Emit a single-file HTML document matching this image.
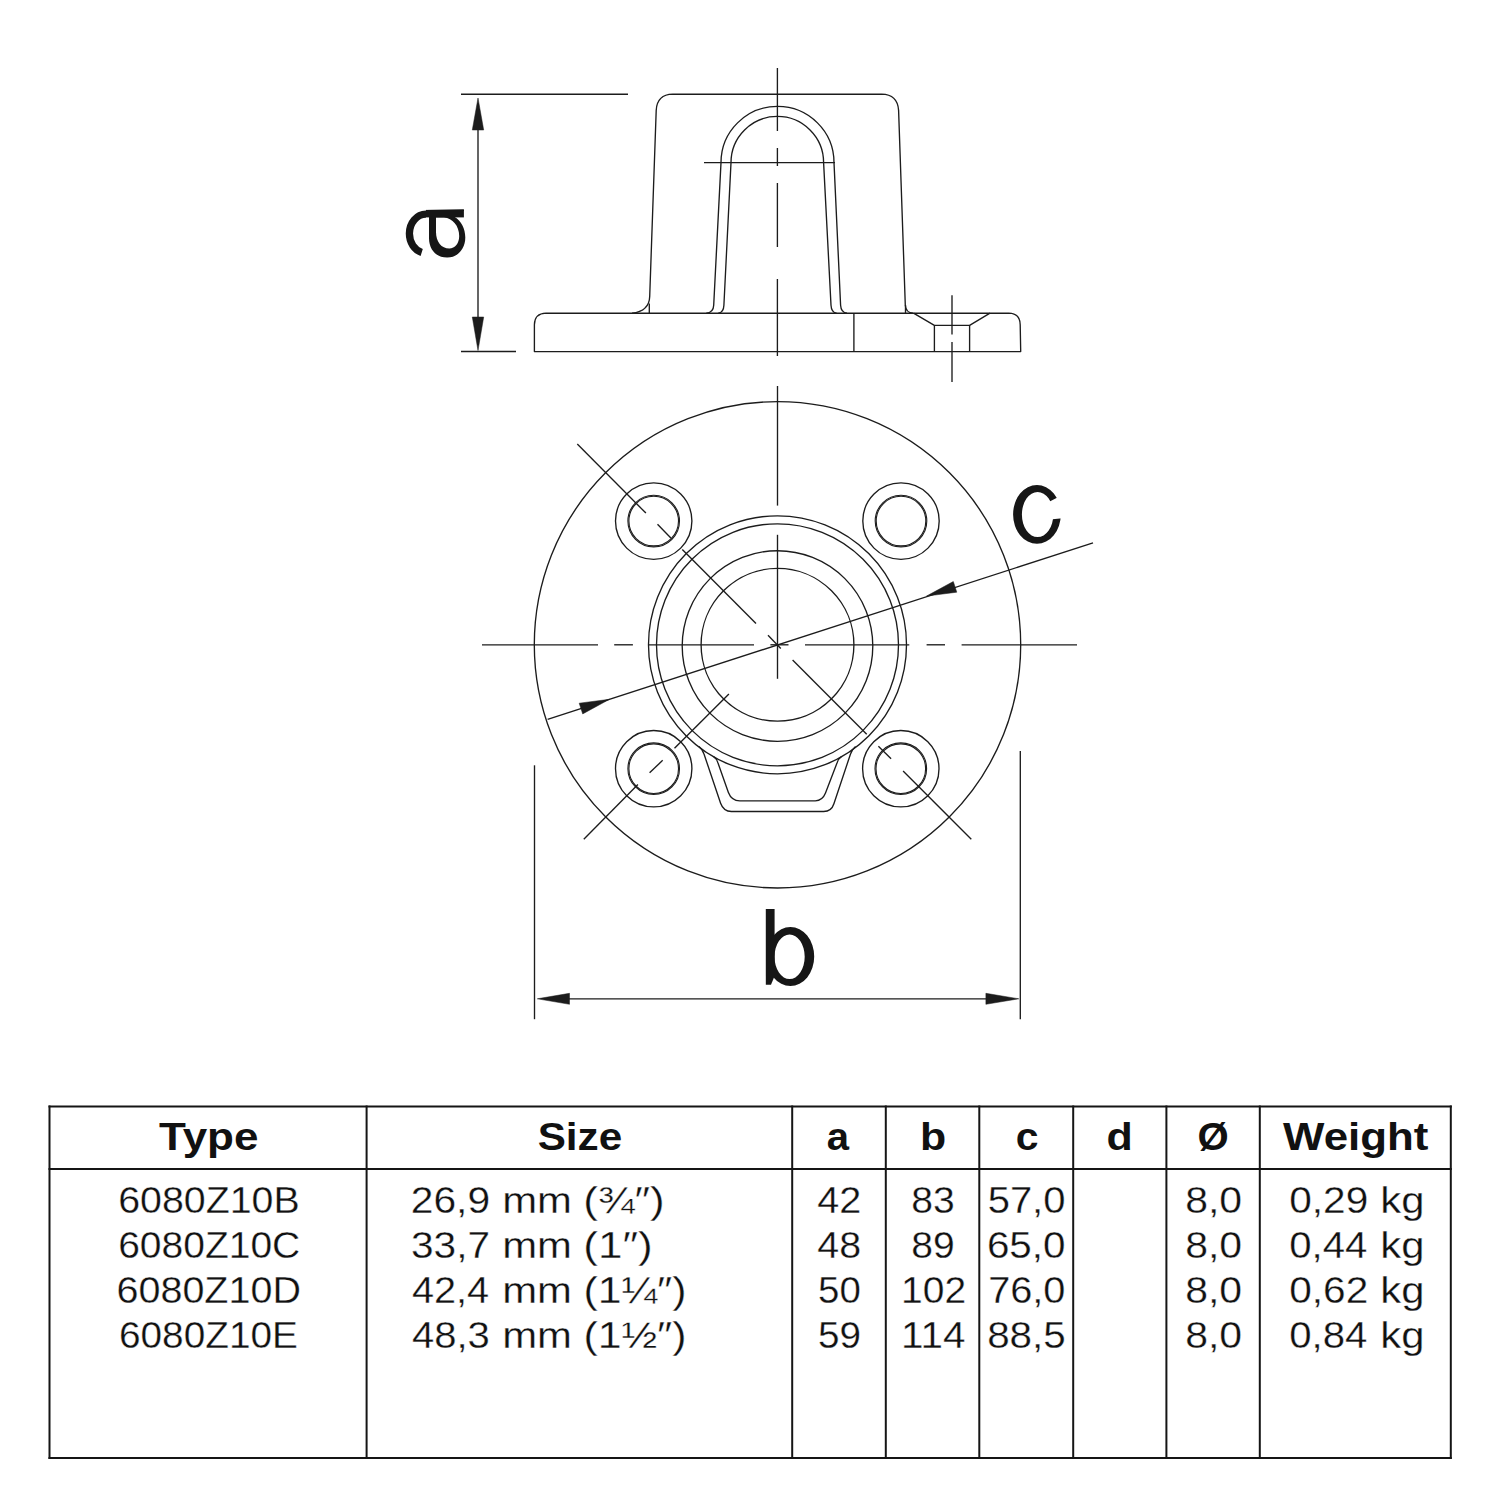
<!DOCTYPE html>
<html><head><meta charset="utf-8"><style>
html,body{margin:0;padding:0;background:#fff;width:1501px;height:1501px;overflow:hidden}
svg{display:block}
text{font-family:"Liberation Sans",sans-serif;fill:#111}
</style></head><body>
<svg width="1501" height="1501" viewBox="0 0 1501 1501">
<g stroke="#1c1c1c" fill="none" stroke-linecap="butt" stroke-linejoin="round">
<line x1="461" y1="94.2" x2="628" y2="94.2" stroke-width="1.35"/>
<line x1="461" y1="351.5" x2="516" y2="351.5" stroke-width="1.35"/>
<line x1="478" y1="110" x2="478" y2="335" stroke-width="1.35"/>
<path d="M478 98 L472.3 130 L483.7 130 Z" stroke-width="0.5" fill="#1c1c1c"/>
<path d="M478 350.5 L472.3 317 L483.7 317 Z" stroke-width="0.5" fill="#1c1c1c"/>
<path d="M632 313.2 Q649.3 311 649.7 296.4 L656.2 110.4 Q657 94.6 672.8 94.2 L881.6 94.2 Q897.6 94.6 898.6 110.4 L905.3 305.2 Q905.8 312.6 913 313.2" stroke-width="1.35" fill="none"/>
<line x1="649.3" y1="303.5" x2="649.3" y2="313.2" stroke-width="1.35"/>
<line x1="905.5" y1="305" x2="905.5" y2="313.2" stroke-width="1.35"/>
<path d="M546 313.2 L1008.7 313.2 Q1020 313.5 1020.2 324.7 L1020.7 351.6 L534.4 351.6 L534.4 324.7 Q534.6 313.5 546 313.2" stroke-width="1.35" fill="none"/>
<line x1="853.9" y1="313.2" x2="853.9" y2="351.6" stroke-width="1.35"/>
<path d="M913.5 313.2 L934.4 325.3 L969.6 325.3 L990 313.2" stroke-width="1.35" fill="none"/>
<line x1="934.4" y1="325.3" x2="934.4" y2="351.6" stroke-width="1.35"/>
<line x1="969.6" y1="325.3" x2="969.6" y2="351.6" stroke-width="1.35"/>
<line x1="952" y1="295.3" x2="952" y2="334.4" stroke-width="1.35"/>
<line x1="952" y1="342" x2="952" y2="382" stroke-width="1.35"/>
<path d="M706.3 313.2 Q713.4 312.5 713.7 305.2 L721 162.6 A56.5 56.2 0 0 1 834 162.6 L840.6 305.2 Q841 312.5 847 313.2" stroke-width="1.35" fill="none"/>
<path d="M718.3 313.2 Q723.6 312.5 723.9 305.2 L731 162.6 A46.3 46.2 0 0 1 823.6 162.6 L831 305.2 Q831.4 312.5 836.6 313.2" stroke-width="1.35" fill="none"/>
<line x1="704" y1="162.6" x2="835" y2="162.6" stroke-width="1.35"/>
<line x1="777.4" y1="68" x2="777.4" y2="131" stroke-width="1.35"/>
<line x1="777.4" y1="148" x2="777.4" y2="166" stroke-width="1.35"/>
<line x1="777.4" y1="183" x2="777.4" y2="247" stroke-width="1.35"/>
<line x1="777.4" y1="279" x2="777.4" y2="356" stroke-width="1.35"/>
<circle cx="777.5" cy="644.8" r="243.2" stroke-width="1.35" fill="none"/>
<circle cx="777.5" cy="644.8" r="129" stroke-width="1.35" fill="none"/>
<circle cx="777.5" cy="644.8" r="121" stroke-width="1.35" fill="none"/>
<circle cx="777.5" cy="646.0" r="95.3" stroke-width="1.35" fill="none"/>
<circle cx="777.5" cy="644.8" r="76.4" stroke-width="1.35" fill="none"/>
<circle cx="653.7" cy="521.1" r="38.2" stroke-width="1.35" fill="none"/>
<circle cx="653.7" cy="521.1" r="24.8" stroke-width="1.1" fill="none"/>
<circle cx="653.7" cy="521.1" r="25.8" stroke-width="1.1" fill="none"/>
<circle cx="901" cy="521.1" r="38.2" stroke-width="1.35" fill="none"/>
<circle cx="901" cy="521.1" r="24.8" stroke-width="1.1" fill="none"/>
<circle cx="901" cy="521.1" r="25.8" stroke-width="1.1" fill="none"/>
<circle cx="653.7" cy="768.7" r="38.2" stroke-width="1.35" fill="none"/>
<circle cx="653.7" cy="768.7" r="24.8" stroke-width="1.1" fill="none"/>
<circle cx="653.7" cy="768.7" r="25.8" stroke-width="1.1" fill="none"/>
<circle cx="900.8" cy="768.7" r="38.2" stroke-width="1.35" fill="none"/>
<circle cx="900.8" cy="768.7" r="24.8" stroke-width="1.1" fill="none"/>
<circle cx="900.8" cy="768.7" r="25.8" stroke-width="1.1" fill="none"/>
<path d="M699 746.5 Q703 750 704 754 L720.6 803.2 Q723.5 811.3 731.4 811.5 L823.7 811.5 Q831.5 811.3 833.9 803.7 L850.5 754 Q851.5 750 855.5 746.5" stroke-width="1.35" fill="none"/>
<path d="M713.5 756.5 Q717 759 718 763 L728.4 792.4 Q731.5 800.6 739.8 800.8 L815.3 800.8 Q822.5 800.6 825.5 793 L837 763 Q838 759 841.5 756.5" stroke-width="1.35" fill="none"/>
<line x1="482" y1="644.8" x2="598" y2="644.8" stroke-width="1.35"/>
<line x1="614.2" y1="644.8" x2="632.9" y2="644.8" stroke-width="1.35"/>
<line x1="648.7" y1="644.8" x2="754" y2="644.8" stroke-width="1.35"/>
<line x1="770.4" y1="644.8" x2="788.5" y2="644.8" stroke-width="1.35"/>
<line x1="805" y1="644.8" x2="909.3" y2="644.8" stroke-width="1.35"/>
<line x1="926.6" y1="644.8" x2="945" y2="644.8" stroke-width="1.35"/>
<line x1="961.6" y1="644.8" x2="1077" y2="644.8" stroke-width="1.35"/>
<line x1="777.5" y1="386" x2="777.5" y2="505.6" stroke-width="1.35"/>
<line x1="777.5" y1="534.8" x2="777.5" y2="678.8" stroke-width="1.35"/>
<line x1="577.3" y1="444.1" x2="645.9" y2="513.1" stroke-width="1.35"/>
<line x1="657.5" y1="524.3" x2="671.1" y2="538.3" stroke-width="1.35"/>
<line x1="682.3" y1="549.5" x2="756" y2="623.6" stroke-width="1.35"/>
<line x1="768" y1="635.3" x2="780.8" y2="648.5" stroke-width="1.35"/>
<line x1="792.6" y1="660.1" x2="866.7" y2="734.2" stroke-width="1.35"/>
<line x1="878.4" y1="746.3" x2="891.1" y2="758.8" stroke-width="1.35"/>
<line x1="903.1" y1="771.1" x2="971.3" y2="839.2" stroke-width="1.35"/>
<line x1="583.8" y1="839.2" x2="637.9" y2="784.6" stroke-width="1.35"/>
<line x1="649.6" y1="772.8" x2="662.7" y2="760.3" stroke-width="1.35"/>
<line x1="674.5" y1="748.2" x2="728.9" y2="694.1" stroke-width="1.35"/>
<line x1="547.6" y1="719.3" x2="1093" y2="542.9" stroke-width="1.35"/>
<path d="M609.5 699.3 L582.7 713.9 L579.2 703.2 Z" stroke-width="0.5" fill="#1c1c1c"/>
<path d="M926.5 596.1 L953.3 581.5 L956.8 592.2 Z" stroke-width="0.5" fill="#1c1c1c"/>
<line x1="534.5" y1="765.3" x2="534.5" y2="1019.2" stroke-width="1.35"/>
<line x1="1020.3" y1="751" x2="1020.3" y2="1019.2" stroke-width="1.35"/>
<line x1="560" y1="998.8" x2="995" y2="998.8" stroke-width="1.35"/>
<path d="M537.3 998.8 L569.5 993.3 L569.5 1004.3 Z" stroke-width="0.5" fill="#1c1c1c"/>
<path d="M1018.8 998.8 L985.9 993.3 L985.9 1004.3 Z" stroke-width="0.5" fill="#1c1c1c"/>
</g>
<g fill="#161616">

<rect x="426" y="209.9" width="37.9" height="7.5"/><path d="M426 209.9 L463.9 209.3 L463.9 211 L426 211 Z"/>
<path d="M426.00 214.10 A16.6 19.5 0 0 0 409.40 233.60 A16.6 19.5 0 0 0 421.7 252.4" fill="none" stroke="#161616" stroke-width="7.3"/>
<path fill-rule="evenodd" d="M429 217 L454.7 217 C461 220.5 465.3 228.5 465.3 237.5 C465.3 249 457.5 257.6 447.2 257.6 C436.5 257.6 429 250 429 238 Z M436 217.6 L444 217.6 C452.5 218.3 459.2 226 459.2 236 C459.2 243.5 455 248.5 449.3 248.5 C441.5 248.5 436 242 436 232 Z"/>

<path d="M765.8 908.9 H774.6 V976 L771 984.8 H765.8 Z"/>
<path fill-rule="evenodd" d="M766.60 956.50 A23.80 29.60 0 1 0 814.20 956.50 A23.80 29.60 0 1 0 766.60 956.50 Z M774.50 956.80 A15.10 22.30 0 1 0 804.70 956.80 A15.10 22.30 0 1 0 774.50 956.80 Z"/>

<mask id="cm" maskUnits="userSpaceOnUse" x="990" y="470" width="100" height="90"><rect x="990" y="470" width="100" height="90" fill="#fff"/><path d="M1040 506.4 L1075 488.4 L1075 516.9 L1040 520.6 Z" fill="#000"/></mask>
<path mask="url(#cm)" fill-rule="evenodd" d="M1013.10 514.40 A23.85 29.40 0 1 0 1060.80 514.40 A23.85 29.40 0 1 0 1013.10 514.40 Z M1021.90 514.55 A15.70 22.55 0 1 0 1053.30 514.55 A15.70 22.55 0 1 0 1021.90 514.55 Z"/>

</g>
<g stroke="#151515">
<line x1="48.5" y1="1106.6" x2="1451.8" y2="1106.6" stroke-width="2.0"/>
<line x1="48.5" y1="1169" x2="1451.8" y2="1169" stroke-width="2.0"/>
<line x1="48.5" y1="1458" x2="1451.8" y2="1458" stroke-width="2.0"/>
<line x1="49.5" y1="1105.6" x2="49.5" y2="1459" stroke-width="2.0"/>
<line x1="366.6" y1="1105.6" x2="366.6" y2="1459" stroke-width="2.0"/>
<line x1="792.2" y1="1105.6" x2="792.2" y2="1459" stroke-width="2.0"/>
<line x1="885.8" y1="1105.6" x2="885.8" y2="1459" stroke-width="2.0"/>
<line x1="979.3" y1="1105.6" x2="979.3" y2="1459" stroke-width="2.0"/>
<line x1="1073.2" y1="1105.6" x2="1073.2" y2="1459" stroke-width="2.0"/>
<line x1="1166.4" y1="1105.6" x2="1166.4" y2="1459" stroke-width="2.0"/>
<line x1="1259.8" y1="1105.6" x2="1259.8" y2="1459" stroke-width="2.0"/>
<line x1="1450.8" y1="1105.6" x2="1450.8" y2="1459" stroke-width="2.0"/>
</g>
<g fill="#0d0d0d">
<text transform="translate(159.04,1150.0) scale(1.1143,1)" font-size="39.5" font-weight="bold">Type</text>
<text transform="translate(537.66,1150.0) scale(1.0706,1)" font-size="39.5" font-weight="bold">Size</text>
<text transform="translate(826.83,1150.0) scale(1.0143,1)" font-size="39.5" font-weight="bold">a</text>
<text transform="translate(919.89,1150.0) scale(1.0850,1)" font-size="39.5" font-weight="bold">b</text>
<text transform="translate(1015.65,1150.0) scale(1.0338,1)" font-size="39.5" font-weight="bold">c</text>
<text transform="translate(1106.49,1150.0) scale(1.0886,1)" font-size="39.5" font-weight="bold">d</text>
<text transform="translate(1197.62,1150.0) scale(1.0165,1)" font-size="39.5" font-weight="bold">Ø</text>
<text transform="translate(1283.10,1150.0) scale(1.1103,1)" font-size="39.5" font-weight="bold">Weight</text>
<text transform="translate(118.13,1212.9) scale(1.0693,1)" font-size="36.8" stroke="#fff" stroke-width="0.3">6080Z10B</text>
<text transform="translate(410.76,1212.9) scale(1.1074,1)" font-size="36.8" stroke="#fff" stroke-width="0.3">26,9</text>
<text transform="translate(502.16,1212.9) scale(1.1378,1)" font-size="36.8" stroke="#fff" stroke-width="0.3">mm</text>
<text transform="translate(583.32,1212.9) scale(1.1922,1)" font-size="36.8" stroke="#fff" stroke-width="0.3">(¾″)</text>
<text transform="translate(817.29,1212.9) scale(1.0771,1)" font-size="36.8" stroke="#fff" stroke-width="0.3">42</text>
<text transform="translate(911.31,1212.9) scale(1.0623,1)" font-size="36.8" stroke="#fff" stroke-width="0.3">83</text>
<text transform="translate(987.67,1212.9) scale(1.0865,1)" font-size="36.8" stroke="#fff" stroke-width="0.3">57,0</text>
<text transform="translate(1185.13,1212.9) scale(1.1130,1)" font-size="36.8" stroke="#fff" stroke-width="0.3">8,0</text>
<text transform="translate(1289.25,1212.9) scale(1.1033,1)" font-size="36.8" stroke="#fff" stroke-width="0.3">0,29</text>
<text transform="translate(1380.36,1212.9) scale(1.1353,1)" font-size="36.8" stroke="#fff" stroke-width="0.3">kg</text>
<text transform="translate(118.15,1258.0) scale(1.0599,1)" font-size="36.8" stroke="#fff" stroke-width="0.3">6080Z10C</text>
<text transform="translate(411.05,1258.0) scale(1.1033,1)" font-size="36.8" stroke="#fff" stroke-width="0.3">33,7</text>
<text transform="translate(502.16,1258.0) scale(1.1378,1)" font-size="36.8" stroke="#fff" stroke-width="0.3">mm</text>
<text transform="translate(583.31,1258.0) scale(1.1963,1)" font-size="36.8" stroke="#fff" stroke-width="0.3">(1″)</text>
<text transform="translate(817.30,1258.0) scale(1.0701,1)" font-size="36.8" stroke="#fff" stroke-width="0.3">48</text>
<text transform="translate(911.31,1258.0) scale(1.0623,1)" font-size="36.8" stroke="#fff" stroke-width="0.3">89</text>
<text transform="translate(986.88,1258.0) scale(1.0978,1)" font-size="36.8" stroke="#fff" stroke-width="0.3">65,0</text>
<text transform="translate(1185.13,1258.0) scale(1.1130,1)" font-size="36.8" stroke="#fff" stroke-width="0.3">8,0</text>
<text transform="translate(1289.26,1258.0) scale(1.0913,1)" font-size="36.8" stroke="#fff" stroke-width="0.3">0,44</text>
<text transform="translate(1380.36,1258.0) scale(1.1353,1)" font-size="36.8" stroke="#fff" stroke-width="0.3">kg</text>
<text transform="translate(116.52,1303.0) scale(1.0734,1)" font-size="36.8" stroke="#fff" stroke-width="0.3">6080Z10D</text>
<text transform="translate(411.89,1303.0) scale(1.0796,1)" font-size="36.8" stroke="#fff" stroke-width="0.3">42,4</text>
<text transform="translate(502.16,1303.0) scale(1.1378,1)" font-size="36.8" stroke="#fff" stroke-width="0.3">mm</text>
<text transform="translate(583.38,1303.0) scale(1.1632,1)" font-size="36.8" stroke="#fff" stroke-width="0.3">(1¼″)</text>
<text transform="translate(818.03,1303.0) scale(1.0447,1)" font-size="36.8" stroke="#fff" stroke-width="0.3">50</text>
<text transform="translate(901.09,1303.0) scale(1.0590,1)" font-size="36.8" stroke="#fff" stroke-width="0.3">102</text>
<text transform="translate(988.14,1303.0) scale(1.0799,1)" font-size="36.8" stroke="#fff" stroke-width="0.3">76,0</text>
<text transform="translate(1185.13,1303.0) scale(1.1130,1)" font-size="36.8" stroke="#fff" stroke-width="0.3">8,0</text>
<text transform="translate(1289.25,1303.0) scale(1.1033,1)" font-size="36.8" stroke="#fff" stroke-width="0.3">0,62</text>
<text transform="translate(1380.36,1303.0) scale(1.1353,1)" font-size="36.8" stroke="#fff" stroke-width="0.3">kg</text>
<text transform="translate(118.95,1347.9) scale(1.0547,1)" font-size="36.8" stroke="#fff" stroke-width="0.3">6080Z10E</text>
<text transform="translate(411.88,1347.9) scale(1.0874,1)" font-size="36.8" stroke="#fff" stroke-width="0.3">48,3</text>
<text transform="translate(502.16,1347.9) scale(1.1378,1)" font-size="36.8" stroke="#fff" stroke-width="0.3">mm</text>
<text transform="translate(583.38,1347.9) scale(1.1632,1)" font-size="36.8" stroke="#fff" stroke-width="0.3">(1½″)</text>
<text transform="translate(818.02,1347.9) scale(1.0517,1)" font-size="36.8" stroke="#fff" stroke-width="0.3">59</text>
<text transform="translate(900.98,1347.9) scale(1.0977,1)" font-size="36.8" stroke="#fff" stroke-width="0.3">114</text>
<text transform="translate(987.15,1347.9) scale(1.0978,1)" font-size="36.8" stroke="#fff" stroke-width="0.3">88,5</text>
<text transform="translate(1185.13,1347.9) scale(1.1130,1)" font-size="36.8" stroke="#fff" stroke-width="0.3">8,0</text>
<text transform="translate(1289.26,1347.9) scale(1.0913,1)" font-size="36.8" stroke="#fff" stroke-width="0.3">0,84</text>
<text transform="translate(1380.36,1347.9) scale(1.1353,1)" font-size="36.8" stroke="#fff" stroke-width="0.3">kg</text>
</g>
</svg>
</body></html>
